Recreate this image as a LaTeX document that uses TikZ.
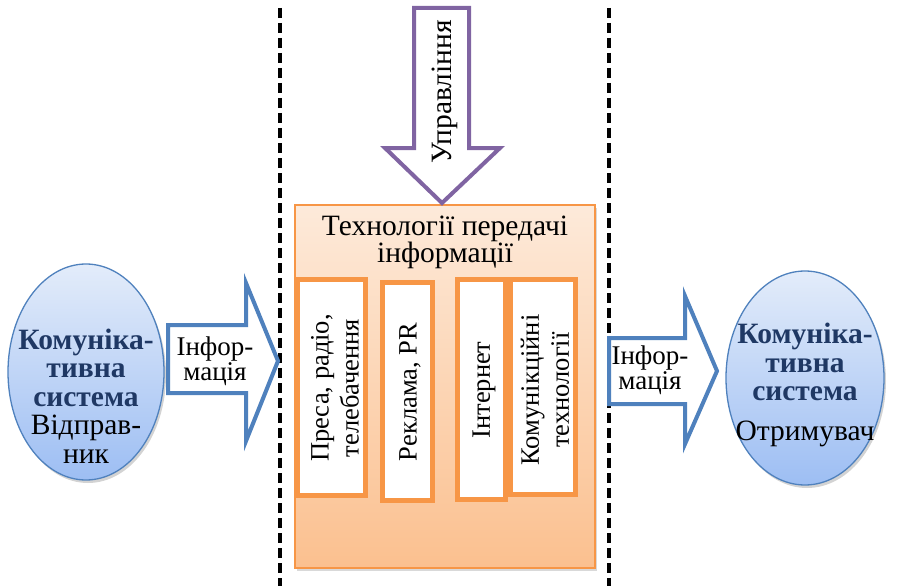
\documentclass[tikz,border=0pt]{standalone}
\usepackage{fontspec}
\setmainfont{Liberation Serif}
\usetikzlibrary{shadows,shapes.geometric}
\definecolor{navy}{HTML}{1F3864}
\definecolor{ablue}{HTML}{4F81BD}
\definecolor{apurple}{HTML}{8064A2}
\definecolor{aorange}{HTML}{F79646}
\definecolor{peachtop}{HTML}{FDEADA}
\definecolor{peachbot}{HTML}{FBC08F}
\definecolor{elltop}{HTML}{E3ECFA}
\definecolor{ellbot}{HTML}{9DBEF3}
\tikzset{
  divider/.style={line width=3.2pt, dash pattern=on 10pt off 5pt},
  sysell/.style={draw=ablue, line width=1.3pt, top color=elltop, bottom color=ellbot,
     drop shadow={shadow xshift=2pt, shadow yshift=-3pt, opacity=0.35}},
  blockarrow/.style={draw=ablue, line width=4pt, fill=white, line join=miter},
  ctrlarrow/.style={draw=apurple, line width=4pt, fill=white, line join=miter},
  techbox/.style={draw=aorange, line width=1.2pt, top color=peachtop, bottom color=peachbot,
     drop shadow={shadow xshift=2pt, shadow yshift=-3pt, opacity=0.3}},
  innerbox/.style={draw=aorange, line width=5pt, fill=white},
  infotext/.style={font=\fontsize{27}{25}\selectfont, align=center, text=black},
  titletext/.style={font=\fontsize{29.5}{27}\selectfont, align=center, text=black},
  systext/.style={font=\fontsize{29.5}{28.5}\selectfont, align=center},
  vtext/.style={font=\fontsize{26.5}{30}\selectfont, align=center, rotate=90},
}
\begin{document}
\begin{tikzpicture}[x=1pt,y=-1pt]
\useasboundingbox (0,0) rectangle (898,586);
% dividers
\coordinate (d1t) at (280,8); \coordinate (d1b) at (280,586);
\coordinate (d2t) at (609,8); \coordinate (d2b) at (609,586);
\draw[divider] (d1t) -- (d1b);
\draw[divider] (d2t) -- (d2b);
% technology box
\node[techbox, minimum width=300pt, minimum height=363pt, inner sep=0pt] (tech) at (445,386.5) {};
\node[titletext] (techtitle) at (445,242) {Технології передачі\\інформації};
% inner boxes
\node[innerbox, minimum width=68pt, minimum height=216pt, inner sep=0pt] (b1) at (331.5,387.5) {};
\node[innerbox, minimum width=50pt, minimum height=218pt, inner sep=0pt] (b2) at (407.5,391.5) {};
\node[innerbox, minimum width=48pt, minimum height=220pt, inner sep=0pt] (b3) at (481.5,389.5) {};
\node[innerbox, minimum width=65pt, minimum height=215pt, inner sep=0pt] (b4) at (543,387) {};
\node[vtext] (t1) at (335,388) {Преса, радіо,\\телебачення};
\node[vtext] (t2) at (410,392) {Реклама, PR};
\node[vtext] (t3) at (484,390) {Інтернет};
\node[vtext] (t4) at (545,390) {Комунікційні\\технології};
% control arrow
\draw[ctrlarrow] (414,8) -- (469,8) -- (469,148) -- (500,148) -- (442,203) -- (385,148) -- (414,148) -- cycle;
\node[vtext, font=\fontsize{29.5}{30}\selectfont] (ctrl) at (445,92) {Управління};
% left ellipse
\node[sysell, ellipse, minimum width=156pt, minimum height=216pt, inner sep=0pt] (snd) at (86,372) {};
\node[systext] (sndtext) at (86,396) {\textbf{\color{navy}Комуніка-}\\\textbf{\color{navy}тивна}\\\textbf{\color{navy}система}\\Відправ-\\ник};
% left arrow
\draw[blockarrow] (168,325) -- (246,325) -- (246,283) -- (278,361) -- (246,441) -- (246,393) -- (168,393) -- cycle;
\node[infotext] (info1) at (215,361) {Інфор-\\мація};
% right arrow
\draw[blockarrow] (609,338) -- (685,338) -- (685,296) -- (717,371) -- (685,444) -- (685,404) -- (609,404) -- cycle;
\node[infotext] (info2) at (650,370) {Інфор-\\мація};
% right ellipse
\node[sysell, ellipse, minimum width=158pt, minimum height=214pt, inner sep=0pt] (rcv) at (805,378) {};
\node[systext] (rcvtext1) at (805,362) {\textbf{\color{navy}Комуніка-}\\\textbf{\color{navy}тивна}\\\textbf{\color{navy}система}};
\node[systext] (rcvtext2) at (805,434) {Отримувач};
\end{tikzpicture}
\end{document}
